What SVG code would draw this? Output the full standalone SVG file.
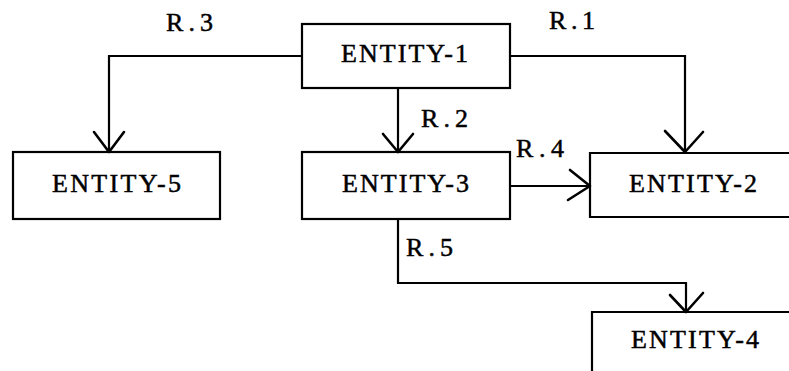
<svg xmlns="http://www.w3.org/2000/svg" width="789" height="371" viewBox="0 0 789 371">
<style>
.box{fill:none;stroke:#000;stroke-width:2.2}
.ln{fill:none;stroke:#000;stroke-width:2.2}
.ah{fill:none;stroke:#000;stroke-width:2.6;stroke-linecap:round;stroke-linejoin:round}
.t{font-family:"Liberation Serif","Times New Roman",serif;font-size:26px;fill:#000;stroke:#000;stroke-width:0.5}
</style>
<rect width="789" height="371" fill="#fff"/>
<g id="connectors">
<g id="r3"><polyline class="ln" points="302,56 109,56 109,152"/><polyline class="ah" points="94,132 109,152 124,132"/><text class="t" x="166" y="31" textLength="47" lengthAdjust="spacing">R.3</text></g>
<g id="r1"><polyline class="ln" points="510,56 685,56 685,152"/><polyline class="ah" points="665,131 685,152 703,132"/><text class="t" x="549" y="29" textLength="46" lengthAdjust="spacing">R.1</text></g>
<g id="r2"><polyline class="ln" points="398,88 398,152"/><polyline class="ah" points="383,134 398,152 413,134"/><text class="t" x="421" y="127" textLength="47" lengthAdjust="spacing">R.2</text></g>
<g id="r4"><polyline class="ln" points="510,186 590,186"/><polyline class="ah" points="570,170 590,186 568,200"/><text class="t" x="516" y="157" textLength="48" lengthAdjust="spacing">R.4</text></g>
<g id="r5"><polyline class="ln" points="398,219 398,283 686,283 686,312"/><polyline class="ah" points="670,295 686,312 703,293"/><text class="t" x="406" y="256" textLength="47" lengthAdjust="spacing">R.5</text></g>
</g>
<g id="entity-1"><rect class="box" x="302" y="24" width="208" height="64"/><text class="t" x="341" y="62" textLength="127" lengthAdjust="spacing">ENTITY-1</text></g>
<g id="entity-5"><rect class="box" x="13" y="152" width="207" height="67"/><text class="t" x="52" y="192" textLength="129" lengthAdjust="spacing">ENTITY-5</text></g>
<g id="entity-3"><rect class="box" x="302" y="152" width="208" height="67"/><text class="t" x="342" y="192" textLength="127" lengthAdjust="spacing">ENTITY-3</text></g>
<g id="entity-2"><polyline class="box" points="789,153 590,153 590,217 789,217"/><text class="t" x="629" y="192" textLength="128" lengthAdjust="spacing">ENTITY-2</text></g>
<g id="entity-4"><polyline class="box" points="789,312 592,312 592,371"/><text class="t" x="631" y="348" textLength="128" lengthAdjust="spacing">ENTITY-4</text></g>
</svg>
